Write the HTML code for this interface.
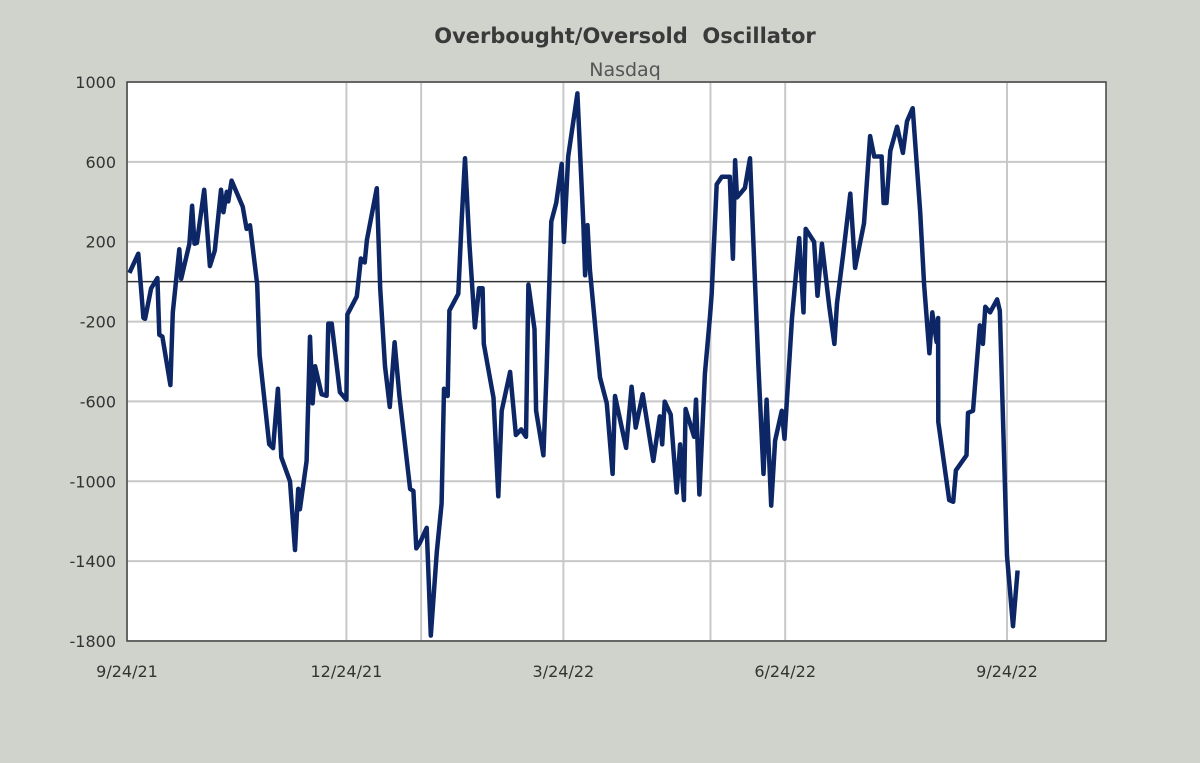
<!DOCTYPE html>
<html><head><meta charset="utf-8"><style>
html,body{margin:0;padding:0;background:#cfd3cc;}
svg{display:block;font-family:"DejaVu Sans","Liberation Sans",sans-serif;}
</style></head><body>
<svg id="chart" width="1200" height="763" viewBox="0 0 1200 763">
<rect x="0" y="0" width="1200" height="763" fill="#cfd3cc"/>
<text x="625" y="43" text-anchor="middle" font-size="21" font-weight="bold" fill="#3a3a3a" xml:space="preserve">Overbought/Oversold  Oscillator</text>
<text x="625" y="76" text-anchor="middle" font-size="19" fill="#555">Nasdaq</text>
<rect x="127" y="82" width="979" height="559" fill="#fff"/>
<g id="grid"></g>
<g id="yticks"></g>
<g id="xticks"></g>
<path id="line" fill="none" stroke="#0d2766" stroke-width="4.5" stroke-linejoin="round"/>
<rect x="127" y="82" width="979" height="559" fill="none" stroke="#444" stroke-width="1.5"/>
</svg>
<script>
const yTicks=[1000,600,200,-200,-600,-1000,-1400,-1800];
const xTickDays=[0,91,181,273,365];
const xTickLabels=["9/24/21","12/24/21","3/24/22","6/24/22","9/24/22"];
const xGridDays=[0,91,122,181,242,273,365];
const days=[1,4.7,6.8,7.5,10,12.6,13.4,14.7,18,19,21.7,22.5,25.9,27,28,29,32,34.4,36.4,39,40,41.4,42,43.4,48,49.6,51,54,55,59,60.6,62.6,64,67.6,69.7,71,71.7,74.5,75.9,77,78,80.7,82.8,83.5,84.9,88.3,91,91.4,95.3,97,98.6,99.5,103.6,105,107,109,111,113,117.4,118.8,120,121.5,124.3,126,128.5,130.5,131.5,133,133.7,137.4,138.8,140.2,142,144.3,146,147.5,148,152,154,155.4,158.9,161.3,163.5,165.5,166.5,169,169.7,172.7,174,176,178,180.3,181.2,183,186.8,189.3,190,191,192,196.2,199,201.4,202.4,207,209.3,211,213.9,218.3,221,222,223,225.5,228,229.4,231,231.7,235.2,236,237.4,239.7,241.8,242.5,244.6,246.7,250,251.3,252.2,253,256.3,258.4,260.4,261.9,264,265.3,267.2,268.8,271.6,272.7,275.8,278.8,280.6,281.5,285,286.4,288.2,291.3,293.4,294.5,297,300,302,304,305.7,308.2,309.9,313,313.8,315,316.6,319.4,321.8,323.5,325.9,329,330.6,332.8,334,335.8,336.4,336.5,341,342.7,343.8,348.2,348.8,350.9,353.7,355,356,358,360.9,362,365,367.5,369.4];
const values=[44,140,-182,-186,-34,18,-266,-276,-518,-154,162,14,190,380,190,194,460,78,156,460,348,450,402,506,376,264,282,-14,-368,-814,-834,-536,-880,-1000,-1344,-1038,-1140,-898,-276,-610,-424,-564,-572,-210,-210,-554,-592,-164,-74,116,96,208,468,-34,-424,-628,-304,-572,-1038,-1048,-1336,-1308,-1233,-1773,-1354,-1112,-536,-573,-145,-61,301,618,190,-229,-33,-33,-312,-582,-1075,-647,-452,-768,-740,-777,-15,-238,-647,-870,-461,301,394,590,199,627,943,283,32,283,60,-480,-610,-963,-573,-833,-526,-731,-564,-898,-675,-815,-601,-666,-1056,-815,-1094,-638,-777,-591,-1066,-461,-173,-61,487,525,525,115,608,422,469,618,22,-424,-963,-591,-1122,-796,-647,-787,-182,218,-154,264,199,-71,190,-126,-312,-108,134,441,69,190,292,729,627,627,394,394,655,776,645,803,869,348,-15,-359,-154,-303,-182,-703,-1094,-1103,-945,-870,-657,-647,-219,-312,-126,-154,-89,-145,-1373,-1726,-1447];
const X=d=>127+d*2.411;
const Y=v=>82+(1000-v)*559/2800;
const NS="http://www.w3.org/2000/svg";
const grid=document.getElementById('grid'),yt=document.getElementById('yticks'),xt=document.getElementById('xticks');
function mk(tag,attrs,parent){const e=document.createElementNS(NS,tag);for(const k in attrs)e.setAttribute(k,attrs[k]);parent.appendChild(e);return e;}
yTicks.forEach(v=>{
  const l=mk('line',{x1:127,x2:1106,y1:Y(v),y2:Y(v),stroke:'#c8c8c8','stroke-width':2},grid);
  
  
  const t=mk('text',{x:116,y:Y(v)+6,'text-anchor':'end','font-size':16,fill:'#333'},yt);
  t.textContent=v;
  
  
});
xGridDays.forEach(d=>{
  const l=mk('line',{x1:X(d),x2:X(d),y1:82,y2:641,stroke:'#c8c8c8','stroke-width':2},grid);
  
  
});
const z=mk('line',{x1:127,x2:1106,y1:Y(0),y2:Y(0),stroke:'#333','stroke-width':1.5},grid);


xTickDays.forEach((d,i)=>{
  const t=mk('text',{x:X(d),y:677,'text-anchor':'middle','font-size':16,fill:'#333'},xt);
  t.textContent=xTickLabels[i];
  
  
});
const n=Math.min(days.length,values.length);
document.getElementById('line').setAttribute('d',days.slice(0,n).map((d,i)=>(i?'L':'M')+X(d).toFixed(1)+' '+Y(values[i]).toFixed(1)).join(' '));
</script>
</body></html>
